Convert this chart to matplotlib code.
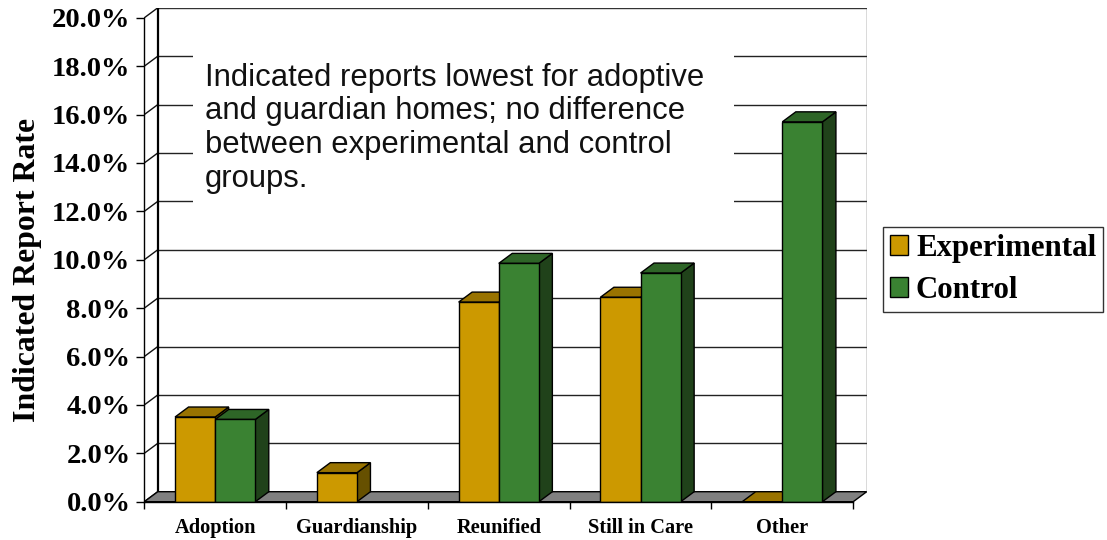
import matplotlib
matplotlib.use("Agg")
import matplotlib.pyplot as plt
from matplotlib.patches import Polygon, Rectangle, Patch
import numpy as np

categories = ["Adoption", "Guardianship", "Reunified", "Still in Care", "Other"]
experimental = [3.5, 1.2, 8.25, 8.45, 0.0]
control = [3.4, np.nan, 9.85, 9.45, 15.7]
series_names = ["Experimental", "Control"]
y_ticks = [0, 2, 4, 6, 8, 10, 12, 14, 16, 18, 20]
note = ("Indicated reports lowest for adoptive\nand guardian homes; no difference\n"
        "between experimental and control\ngroups.")

# colours: front, top, side
GOLD = ("#CC9900", "#997300", "#665000")
GREEN = ("#3A8232", "#2E6527", "#20421A")
FLOOR = "#808080"

SERIF = ["Liberation Serif", "DejaVu Serif"]
SANS = ["Liberation Sans", "DejaVu Sans"]

DX = 0.095   # depth offset in category units
DY = 0.413   # depth offset in value units
W = 0.283    # bar width

fig = plt.figure(figsize=(11.07, 5.40), dpi=100)
ax = fig.add_axes([144.3 / 1107, (540 - 501.7) / 540, 722.4 / 1107, 493.9 / 540])
ax.set_xlim(-0.5, 4.5 + DX)
ax.set_ylim(0, 20 + DY)
ax.patch.set_alpha(0)

for s in ["top", "right"]:
    ax.spines[s].set_visible(False)
ax.spines["left"].set_bounds(0, 20)
ax.spines["bottom"].set_bounds(-0.5, 4.5)
ax.spines["left"].set_linewidth(1.0)
ax.spines["bottom"].set_linewidth(1.0)
ax.spines["left"].set_zorder(50)
ax.spines["bottom"].set_zorder(50)

# back wall
x0b, x1b = -0.5 + DX, 4.5 + DX
for v in y_ticks:
    if 0 < v < 20:
        ax.plot([x0b, x1b], [v + DY, v + DY], color="#222222", lw=1.0, zorder=1)
    ax.plot([-0.5, x0b], [v, v + DY], color="#111111", lw=1.0, zorder=1)
ax.plot([x0b, x1b], [20 + DY, 20 + DY], color="#333333", lw=1.0, zorder=1)
ax.plot([x0b, x0b], [DY, 20 + DY], color="black", lw=1.6, zorder=1)
ax.plot([x1b, x1b], [DY, 20 + DY], color="#444444", lw=1.0, zorder=1)

# floor
ax.add_patch(Polygon([(-0.5, 0), (4.5, 0), (4.5 + DX, DY), (-0.5 + DX, DY)],
                     closed=True, facecolor=FLOOR, edgecolor="black", lw=1.0, zorder=2))

# note box
ax.add_patch(Rectangle((-0.157, 11.6), 3.66 + 0.157, 19.8 - 11.6,
                       facecolor="white", edgecolor="none", zorder=3))
ax.text(-0.072, 18.15, note, family=SANS, fontsize=22.3, color="#111111",
        va="top", ha="left", linespacing=1.17, zorder=4)

# bars
z = 10
xs = np.arange(len(categories))
for i in range(len(categories)):
    for vals, off, cols in ((experimental, -W, GOLD), (control, 0.0, GREEN)):
        v = vals[i]
        if np.isnan(v):
            continue
        l = xs[i] + off
        r = l + W
        ax.add_patch(Polygon([(r, 0), (r + DX, DY), (r + DX, v + DY), (r, v)], closed=True,
                             facecolor=cols[2], edgecolor="black", lw=1.0, zorder=z))
        ax.add_patch(Polygon([(l, v), (r, v), (r + DX, v + DY), (l + DX, v + DY)], closed=True,
                             facecolor=cols[1], edgecolor="black", lw=1.0, zorder=z))
        ax.bar(l, v, width=W, align="edge", color=cols[0], edgecolor="black",
               linewidth=1.0, zorder=z + 0.5)
        z += 1

# ticks
ax.set_yticks(y_ticks)
ax.set_yticklabels([f"{t:.1f}%" for t in y_ticks], family=SERIF, fontweight="bold", fontsize=20.5)
ax.tick_params(axis="y", direction="out", length=6, width=1.0, pad=4)
ax.set_xticks(np.arange(-0.5, 4.6, 1.0))
ax.set_xticklabels([])
ax.set_xticks(xs, minor=True)
ax.set_xticklabels(categories, minor=True, family=SERIF, fontweight="bold", fontsize=14.7)
ax.tick_params(axis="x", which="major", direction="out", length=5, width=1.0)
ax.tick_params(axis="x", which="minor", length=0, pad=12)

fig.text(28 / 1107, 1 - 270 / 540, "Indicated Report Rate", rotation=90, family=SERIF,
         fontweight="bold", fontsize=22.9, ha="center", va="center")

handles = [Patch(facecolor=GOLD[0], edgecolor="black", lw=1.0),
           Patch(facecolor=GREEN[0], edgecolor="black", lw=1.0)]
leg = fig.legend(handles, series_names, loc="upper left",
                 bbox_to_anchor=(883 / 1107, 1 - 227 / 540), borderaxespad=0,
                 prop={"family": SERIF, "weight": "bold", "size": 22.2},
                 handlelength=0.6, handleheight=0.6, handletextpad=0.25,
                 labelspacing=0.42, borderpad=0.22, fancybox=False, frameon=True)
leg.get_frame().set_edgecolor("black")
leg.get_frame().set_linewidth(1.0)

fig.savefig("out.png", dpi=100)
